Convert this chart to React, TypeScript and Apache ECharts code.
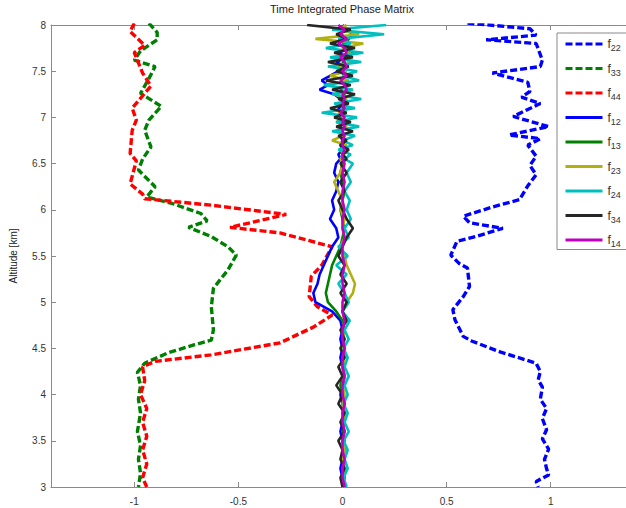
import React, { useEffect, useRef } from "react";
import * as echarts from "echarts";

// Altitude grid (km) shared by the solid near-zero profiles
const altitudes = [
  8.0, 7.95, 7.9, 7.85, 7.8, 7.75, 7.7, 7.65, 7.6, 7.55,
  7.5, 7.45, 7.4, 7.35, 7.3, 7.25, 7.2, 7.15, 7.1, 7.05,
  7.0, 6.95, 6.9, 6.85, 6.8, 6.75, 6.7, 6.65, 6.6, 6.55,
  6.5, 6.4, 6.3, 6.2, 6.1, 6.0, 5.9, 5.8, 5.7, 5.6,
  5.5, 5.4, 5.3, 5.2, 5.1, 5.0, 4.9, 4.8, 4.7, 4.6,
  4.5, 4.4, 4.3, 4.2, 4.1, 4.0, 3.9, 3.8, 3.7, 3.6,
  3.5, 3.4, 3.3, 3.2, 3.1, 3.0,
];

// Dashed profiles: [value, altitude]
const f22: [number, number][] = [
  [0.6, 8.02], [0.9, 7.96], [0.93, 7.89], [0.69, 7.84], [0.93, 7.8], [0.96, 7.62], [0.95, 7.55],
  [0.72, 7.48], [0.89, 7.38], [0.9, 7.28], [0.86, 7.22], [0.95, 7.15], [0.82, 7.01], [0.99, 6.9],
  [0.8, 6.81], [0.95, 6.77], [0.89, 6.7], [0.93, 6.58], [0.9, 6.48], [0.93, 6.38], [0.89, 6.26],
  [0.85, 6.11], [0.72, 6.03], [0.58, 5.93], [0.61, 5.86], [0.77, 5.8], [0.64, 5.71], [0.55, 5.66],
  [0.52, 5.51], [0.56, 5.42], [0.6, 5.37], [0.61, 5.17], [0.58, 5.06], [0.53, 4.92], [0.54, 4.81],
  [0.58, 4.63], [0.62, 4.58], [0.76, 4.46], [0.93, 4.34], [0.95, 4.25], [0.94, 4.16], [0.96, 4.08],
  [0.95, 3.95], [0.98, 3.85], [0.96, 3.74], [0.98, 3.62], [0.96, 3.52], [0.99, 3.41], [0.97, 3.3],
  [0.98, 3.2], [0.99, 3.13], [0.93, 3.06], [0.94, 3.0],
];
const f33: [number, number][] = [
  [-0.93, 8.02], [-0.89, 7.92], [-0.89, 7.84], [-0.97, 7.72], [-1.0, 7.62], [-0.9, 7.55],
  [-0.93, 7.42], [-0.97, 7.26], [-0.87, 7.12], [-0.93, 6.97], [-0.95, 6.86], [-0.92, 6.68],
  [-0.96, 6.55], [-0.98, 6.43], [-0.9, 6.25], [-0.94, 6.14], [-0.82, 6.07], [-0.68, 5.96],
  [-0.65, 5.88], [-0.74, 5.81], [-0.63, 5.71], [-0.55, 5.6], [-0.51, 5.51], [-0.55, 5.35],
  [-0.62, 5.15], [-0.63, 4.95], [-0.62, 4.7], [-0.63, 4.59], [-0.71, 4.54], [-0.84, 4.45],
  [-0.95, 4.34], [-0.985, 4.24], [-0.97, 4.1], [-0.98, 3.95], [-0.97, 3.8], [-0.985, 3.6],
  [-0.97, 3.45], [-0.98, 3.3], [-0.97, 3.15], [-0.98, 3.0],
];
const f44: [number, number][] = [
  [-1.0, 8.02], [-1.02, 7.93], [-0.95, 7.78], [-1.0, 7.7], [-0.96, 7.48], [-0.92, 7.34],
  [-1.01, 7.1], [-0.99, 6.97], [-1.01, 6.86], [-1.02, 6.61], [-0.99, 6.53], [-1.02, 6.28],
  [-0.96, 6.17], [-0.95, 6.12], [-0.63, 6.05], [-0.27, 5.95], [-0.54, 5.81], [-0.3, 5.75],
  [-0.05, 5.6], [-0.1, 5.4], [-0.15, 5.28], [-0.16, 5.06], [-0.12, 4.95], [-0.05, 4.86],
  [-0.14, 4.73], [-0.3, 4.56], [-0.63, 4.43], [-0.9, 4.36], [-0.96, 4.3], [-0.95, 4.15],
  [-0.97, 4.0], [-0.94, 3.85], [-0.96, 3.7], [-0.94, 3.55], [-0.96, 3.4], [-0.94, 3.25],
  [-0.96, 3.1], [-0.94, 3.0],
];

// Solid profiles on the altitude grid
const f12 = [
  0.0, 0.02, 0.05, 0.03, 0.01, 0.04, -0.02, 0.02, -0.03, 0.01,
  -0.02, -0.06, -0.1, -0.07, -0.11, -0.04, -0.01, 0.01, -0.02, 0.0,
  -0.01, 0.01, -0.01, 0.0, -0.01, 0.0, -0.01, 0.0, -0.02, -0.01,
  -0.03, -0.04, -0.02, -0.03, -0.05, -0.04, -0.06, -0.03, -0.02, -0.05,
  -0.07, -0.09, -0.11, -0.12, -0.14, -0.13, -0.05, -0.01, 0.0, -0.01,
  0.0, -0.01, 0.0, 0.01, 0.0, -0.01, 0.0, 0.01, 0.0, -0.01,
  0.0, 0.01, 0.0, -0.01, 0.0, 0.01,
];
const f13 = [
  0.0, 0.01, -0.01, 0.03, 0.0, 0.02, 0.05, 0.03, 0.0, 0.02,
  -0.01, 0.01, 0.0, 0.02, -0.01, 0.01, 0.0, 0.02, 0.0, 0.01,
  -0.01, 0.0, 0.01, -0.01, 0.0, 0.01, 0.0, -0.01, 0.0, 0.01,
  0.0, -0.01, 0.0, 0.01, 0.0, -0.01, 0.0, 0.01, 0.0, -0.01,
  -0.03, -0.05, -0.06, -0.07, -0.08, -0.07, -0.03, 0.0, 0.01, 0.0,
  0.01, 0.0, 0.01, 0.0, -0.01, 0.0, 0.01, 0.0, 0.01, 0.0,
  0.01, 0.0, 0.01, 0.0, 0.01, 0.0,
];
const f23 = [
  0.02, -0.02, 0.08, -0.13, 0.1, 0.0, 0.04, -0.03, 0.05, -0.02,
  0.02, -0.06, 0.03, -0.08, 0.05, -0.04, 0.02, 0.0, 0.03, -0.02,
  0.01, -0.03, 0.02, -0.01, 0.0, -0.05, 0.02, -0.01, 0.01, -0.01,
  0.0, -0.01, -0.04, -0.02, 0.0, -0.01, 0.01, 0.0, 0.01, -0.01,
  0.01, 0.02, 0.04, 0.06, 0.05, 0.02, 0.0, 0.01, 0.0, 0.01,
  0.0, 0.01, 0.0, 0.01, 0.0, 0.01, 0.0, 0.01, 0.0, 0.01,
  0.0, 0.01, 0.0, 0.01, 0.0, 0.01,
];
const f24 = [
  0.21, -0.05, 0.2, -0.02, 0.04, -0.08, 0.1, -0.06, 0.09, -0.07,
  0.07, 0.0, 0.08, -0.09, 0.05, -0.05, 0.09, -0.04, 0.06, -0.1,
  0.07, -0.03, 0.08, -0.05, 0.06, 0.0, 0.05, -0.02, 0.04, 0.01,
  0.05, 0.02, 0.04, 0.01, 0.035, 0.02, 0.04, 0.01, 0.03, -0.02,
  0.025, -0.03, 0.02, -0.02, 0.01, 0.03, 0.0, 0.035, 0.01, 0.03,
  0.005, 0.025, 0.01, 0.03, 0.01, 0.025, 0.005, 0.025, 0.01, 0.03,
  0.005, 0.025, 0.01, 0.025, 0.005, 0.02,
];
const f34 = [
  -0.17, 0.04, -0.03, 0.02, -0.06, 0.06, -0.04, 0.05, -0.07, 0.03,
  -0.03, 0.05, -0.08, 0.04, -0.05, 0.06, -0.02, 0.03, -0.06, 0.02,
  -0.04, 0.04, -0.03, 0.05, -0.02, 0.02, -0.01, 0.03, 0.0, 0.02,
  -0.01, 0.02, -0.01, 0.01, -0.02, 0.0, 0.02, 0.05, 0.02, 0.0,
  -0.02, 0.01, -0.01, 0.02, -0.01, 0.02, 0.0, 0.02, -0.01, 0.01,
  -0.01, 0.01, -0.02, 0.0, -0.03, 0.0, -0.02, 0.01, -0.01, 0.01,
  -0.02, 0.0, -0.01, 0.01, -0.01, 0.0,
];
const f14 = [
  -0.02, 0.01, -0.01, 0.02, -0.02, 0.01, 0.02, -0.01, 0.01, 0.02,
  0.0, 0.02, -0.01, 0.01, 0.02, 0.0, 0.01, 0.0, 0.01, -0.01,
  0.01, 0.0, 0.01, 0.0, 0.01, 0.0, 0.0, 0.01, 0.0, 0.0,
  0.01, 0.0, 0.01, 0.0, 0.0, 0.01, 0.0, 0.0, 0.01, 0.0,
  0.0, 0.01, 0.0, 0.0, 0.01, 0.0, 0.0, 0.01, 0.0, 0.0,
  0.01, 0.0, 0.0, 0.01, 0.0, 0.0, 0.01, 0.0, 0.0, 0.01,
  0.0, 0.0, 0.01, 0.0, 0.0, 0.01,
];

const xTicks = [-1, -0.5, 0, 0.5, 1];
const seriesNames = ["f22", "f33", "f44", "f12", "f13", "f23", "f24", "f34", "f14"];
const seriesColors = ["#0000ff", "#008000", "#ff0000", "#0000ff", "#008000", "#b0b010", "#00bfbf", "#262626", "#c000c0"];

const FONT = "'Liberation Sans', Arial, Helvetica, sans-serif";

export default function App() {
  const ref = useRef<HTMLDivElement>(null);
  useEffect(() => {
    const chart = echarts.init(ref.current!, null, { renderer: "svg" });
    const onGrid = (xs: number[]) => xs.map((x, i) => [x, altitudes[i]]);
    const datasets: number[][][] = [f22, f33, f44, onGrid(f12), onGrid(f13), onGrid(f23), onGrid(f24), onGrid(f34), onGrid(f14)];
    const series = datasets.map((d, i) => ({
      name: seriesNames[i],
      type: "line",
      data: d,
      symbol: "none",
      showSymbol: false,
      color: seriesColors[i],
      lineStyle: {
        color: seriesColors[i],
        width: i < 3 ? 3.4 : 2.6,
        type: i < 3 ? [7, 3] : "solid",
      },
      z: 2 + i,
    }));
    const axisColor = "#8a8a8a";
    const labelStyle = { color: "#333", fontSize: 10, fontFamily: FONT };
    chart.setOption({
      animation: false,
      backgroundColor: "#fff",
      title: {
        text: "Time Integrated Phase Matrix",
        left: 342,
        top: 3,
        padding: 0,
        textAlign: "center",
        textStyle: { fontSize: 11, fontWeight: "normal", color: "#222", fontFamily: FONT },
      },
      grid: { left: 49, top: 25, width: 585, height: 462 },
      legend: {
        orient: "vertical",
        left: 557,
        top: 33,
        itemWidth: 37,
        itemHeight: 14,
        itemGap: 10.0,
        padding: [5, 40, 1, 7],
        borderColor: "#888",
        borderWidth: 1,
        backgroundColor: "#fff",
        itemStyle: { opacity: 0 },
        lineStyle: { width: 3 },
        data: seriesNames,
        formatter: (name: string) => `{f|f}{s|${name.slice(1)}}`,
        textStyle: {
          fontFamily: FONT,
          color: "#333",
          rich: {
            f: { fontSize: 12, color: "#333", fontFamily: FONT },
            s: { fontSize: 9, color: "#333", fontFamily: FONT, padding: [8, 0, 0, 0] },
          },
        },
      },
      xAxis: [
        {
          type: "value",
          min: -1.4,
          max: 1.4,
          position: "bottom",
          splitLine: { show: false },
          axisLine: { show: true, lineStyle: { color: axisColor } },
          axisTick: { show: true, inside: true, length: 5, customValues: xTicks, lineStyle: { color: axisColor } },
          axisLabel: { ...labelStyle, margin: 9, customValues: xTicks },
        },
        {
          type: "value",
          min: -1.4,
          max: 1.4,
          position: "top",
          splitLine: { show: false },
          axisLine: { show: true, onZero: false, lineStyle: { color: axisColor } },
          axisTick: { show: true, inside: true, length: 5, customValues: xTicks, lineStyle: { color: axisColor } },
          axisLabel: { show: false },
        },
      ],
      yAxis: [
        {
          type: "value",
          min: 3,
          max: 8,
          interval: 0.5,
          position: "left",
          name: "Altitude [km]",
          nameLocation: "middle",
          nameGap: 33,
          nameTextStyle: { color: "#222", fontSize: 10, fontFamily: FONT },
          splitLine: { show: false },
          axisLine: { show: true, onZero: false, lineStyle: { color: axisColor } },
          axisTick: { show: true, inside: true, length: 5, lineStyle: { color: axisColor } },
          axisLabel: { ...labelStyle, margin: 5 },
        },
        {
          type: "value",
          min: 3,
          max: 8,
          interval: 0.5,
          position: "right",
          splitLine: { show: false },
          axisLine: { show: true, onZero: false, lineStyle: { color: axisColor } },
          axisTick: { show: true, inside: true, length: 5, lineStyle: { color: axisColor } },
          axisLabel: { show: false },
        },
      ],
      series,
    });
    return () => chart.dispose();
  }, []);
  return (
    <div
      style={{
        position: "fixed",
        left: 0,
        top: 0,
        width: 626,
        height: 508,
        overflow: "hidden",
        background: "#fff",
      }}
    >
      <div ref={ref} style={{ width: 660, height: 508 }} />
    </div>
  );
}
